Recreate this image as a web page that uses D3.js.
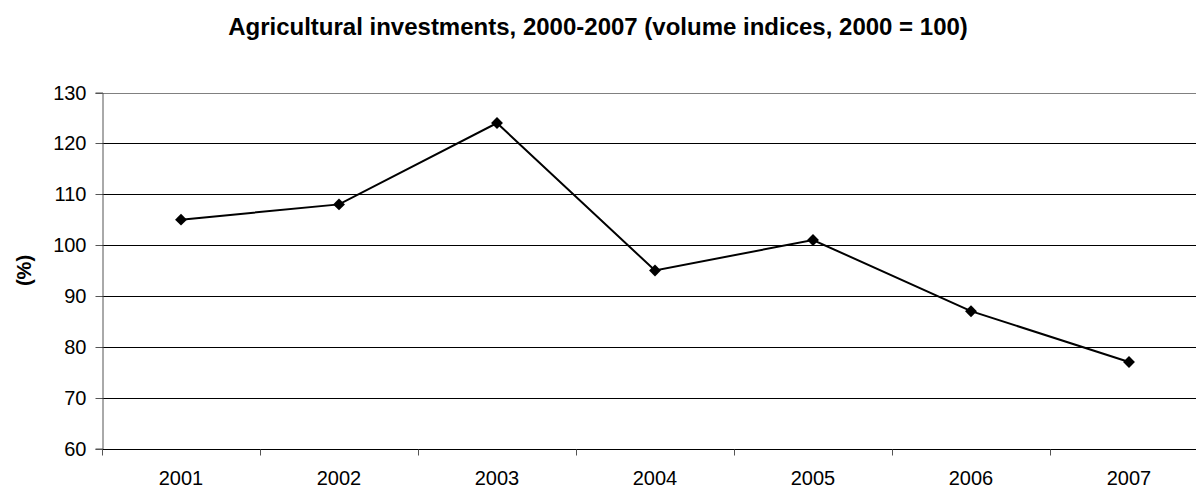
<!DOCTYPE html>
<html>
<head>
<meta charset="utf-8">
<script src="https://cdn.jsdelivr.net/npm/d3@7"></script>
<style>
  body { margin: 0; background: #fff; }
  svg { display: block; font-family: "Liberation Sans", Arial, sans-serif; }
</style>
</head>
<body>
<div id="chart"></div>
<script>
// Chart data
let years = ["2001", "2002", "2003", "2004", "2005", "2006", "2007"];
let indices = [105, 108, 124, 95, 101, 87, 77];
let y_ticks = [60, 70, 80, 90, 100, 110, 120, 130];

let width = 1196, height = 489;
// plot area runs past the right edge of the picture, like the reference
let margin = {left: 102, right: -12, top: 92.5, bottom: 40.5};

let svg = d3.select("#chart")
    .append("svg")
    .attr("width", width)
    .attr("height", height);

let x = d3.scaleBand()
    .domain(years)
    .range([margin.left, width - margin.right]);

let y = d3.scaleLinear()
    .domain([60, 130])
    .range([height - margin.bottom, margin.top]);

// Horizontal gridlines
svg.append("g")
    .selectAll("line")
    .data(y_ticks)
    .enter()
    .append("line")
    .attr("x1", margin.left)
    .attr("x2", width)
    .attr("y1", d => Math.round(y(d)) + 0.5)
    .attr("y2", d => Math.round(y(d)) + 0.5)
    .attr("stroke", d => d === 130 ? "#808080" : "#000")
    .attr("stroke-width", 1);

// Y axis
let y_axis = svg.append("g")
    .attr("transform", `translate(${margin.left + 0.5}, 0)`)
    .call(d3.axisLeft(y).tickValues(y_ticks).tickSize(7).tickPadding(9));
y_axis.select(".domain").attr("stroke", "#555");
y_axis.selectAll(".tick line").attr("stroke", "#555");
y_axis.selectAll(".tick")
    .attr("transform", d => `translate(0, ${Math.round(y(d)) + 0.5})`);
y_axis.selectAll("text")
    .style("font-size", "20px")
    .style("font-family", "Liberation Sans, Arial, sans-serif")
    .attr("fill", "#000");

// X axis: ticks at category boundaries, labels at centres
let x_base = Math.round(y(60)) + 0.5;
let x_axis = svg.append("g");
x_axis.selectAll("line")
    .data(years)
    .enter()
    .append("line")
    .attr("x1", d => Math.round(x(d)) + 0.5)
    .attr("x2", d => Math.round(x(d)) + 0.5)
    .attr("y1", x_base)
    .attr("y2", x_base + 6)
    .attr("stroke", "#555");
x_axis.selectAll("text")
    .data(years)
    .enter()
    .append("text")
    .attr("x", d => x(d) + x.bandwidth() / 2)
    .attr("y", x_base + 35)
    .style("text-anchor", "middle")
    .style("font-size", "20px")
    .text(d => d);

// Line
let line = d3.line()
    .x((d, i) => x(years[i]) + x.bandwidth() / 2)
    .y(d => y(d));

svg.append("path")
    .datum(indices)
    .attr("fill", "none")
    .attr("stroke", "#000")
    .attr("stroke-width", 2)
    .attr("d", line);

// Diamond markers
svg.append("g")
    .selectAll("path")
    .data(indices)
    .enter()
    .append("path")
    .attr("transform", (d, i) => `translate(${x(years[i]) + x.bandwidth() / 2}, ${y(d)})`)
    .attr("d", d3.symbol().type(d3.symbolDiamond2).size(90))
    .attr("fill", "#000");

// Title
svg.append("text")
    .attr("x", 598)
    .attr("y", 35)
    .style("text-anchor", "middle")
    .style("font-weight", "bold")
    .style("font-size", "24px")
    .text("Agricultural investments, 2000-2007 (volume indices, 2000 = 100)");

// Y axis label
svg.append("text")
    .attr("transform", `translate(31, ${(y(60) + y(130)) / 2}) rotate(-90)`)
    .style("text-anchor", "middle")
    .style("font-weight", "bold")
    .style("font-size", "20px")
    .text("(%)");
</script>
</body>
</html>
